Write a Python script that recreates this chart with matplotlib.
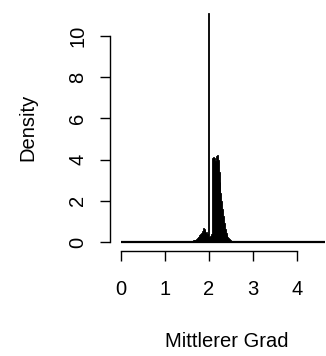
import numpy as np
import matplotlib
matplotlib.use("Agg")
import matplotlib.pyplot as plt

plt.rcParams['font.family'] = ['Liberation Sans', 'DejaVu Sans']

# histogram of mean degree, bin width 0.02, density scale
hist_range = (0.0, 4.64)
bin_width = 0.02
bin_left = [
    1.40, 1.42, 1.44, 1.46, 1.48, 1.50, 1.52, 1.54, 1.56, 1.58,
    1.60, 1.62, 1.64, 1.66, 1.68, 1.70, 1.72, 1.74, 1.76, 1.78,
    1.80, 1.82, 1.84, 1.86, 1.88, 1.90, 1.92, 1.94, 1.96, 1.98,
    2.00, 2.02, 2.04, 2.06, 2.08, 2.10, 2.12, 2.14, 2.16, 2.18,
    2.20, 2.22, 2.24, 2.26, 2.28, 2.30, 2.32, 2.34, 2.36, 2.38,
    2.40, 2.42, 2.44, 2.46, 2.48, 2.50, 2.52, 2.54, 2.56, 2.58,
    2.60,
]
density = [
    0.01, 0.00, 0.02, 0.01, 0.02, 0.03, 0.02, 0.03, 0.04, 0.05,
    0.06, 0.05, 0.08, 0.10, 0.12, 0.14, 0.18, 0.22, 0.26, 0.32,
    0.38, 0.45, 0.55, 0.66, 0.64, 0.58, 0.42, 0.48, 0.40, 11.1,
    0.25, 0.30, 0.40, 4.10, 4.05, 4.12, 4.10, 3.95, 4.18, 4.20,
    4.00, 3.40, 2.90, 2.40, 2.00, 1.60, 1.25, 0.90, 0.65, 0.45,
    0.32, 0.22, 0.17, 0.13, 0.10, 0.07, 0.05, 0.04, 0.03, 0.02,
    0.01,
]
x_ticks = [0, 1, 2, 3, 4]
y_ticks = [0, 2, 4, 6, 8, 10]

fs = 14.5
fig = plt.figure(figsize=(3.26, 3.56), dpi=100)
ax = fig.add_axes([110/326, 105/356, 216/326, 247/356])

# empty bins show up as a line along zero
ax.hlines(0, hist_range[0], hist_range[1], color='black', lw=1.6)
ax.bar(bin_left, density, width=bin_width, align='edge',
       color='black', edgecolor='black', linewidth=0.6)

ax.set_xlim(-0.25, 4.66)
ax.set_ylim(-0.437, 11.55)

for s in ['top', 'right']:
    ax.spines[s].set_visible(False)
ax.spines['bottom'].set_bounds(0, 4)
ax.spines['left'].set_bounds(0, 10)
ax.spines['bottom'].set_linewidth(1.0)
ax.spines['left'].set_linewidth(1.0)

ax.set_xticks(x_ticks)
ax.set_yticks(y_ticks)
ax.set_yticklabels([str(v) for v in y_ticks], rotation=90, va='center')
ax.tick_params(axis='both', length=7.2, width=1.0, labelsize=fs)
ax.tick_params(axis='x', pad=14)
ax.tick_params(axis='y', pad=9)

ax.set_xlabel('Mittlerer Grad', fontsize=fs)
ax.xaxis.set_label_coords((227-110)/216, (251-332)/247)
ax.set_ylabel('Density', fontsize=fs)
ax.yaxis.set_label_coords((37-110)/216, 0.5)

fig.savefig('out.png', dpi=100)
